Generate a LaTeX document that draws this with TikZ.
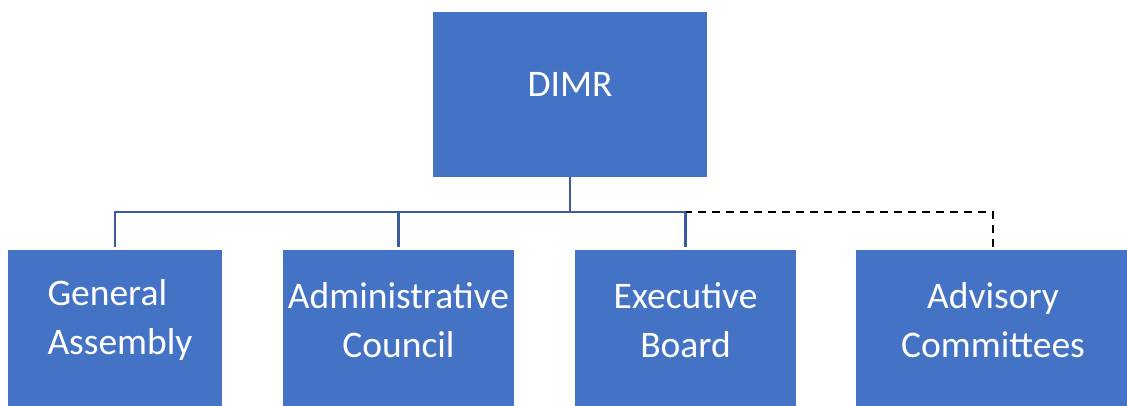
\documentclass[tikz,border=0pt]{standalone}
\usepackage{fontspec}
\setmainfont{Carlito}
\definecolor{unitblue}{HTML}{4472C4}
\definecolor{linkblue}{HTML}{3A5BA0}

\begin{document}
\begin{tikzpicture}[x=1pt,y=1pt]
\useasboundingbox (0,0) rectangle (1127,405);
\tikzset{unit/.style ={rectangle, fill=unitblue, draw=none, inner sep=0pt}}
\tikzset{caption/.style ={text=white, align=center, font=\fontsize{37.5}{49}\selectfont}}
\tikzset{link/.style ={draw=linkblue, line width=2.2pt}}
\tikzset{dotlink/.style ={draw=black, line width=1.6pt, dash pattern=on 8pt off 6pt}}
% top box
\node[unit, minimum width=274, minimum height=165,
  label={[caption, yshift=10.5]center:DIMR}] (dimr) at (570,310.5) {};
% bottom row
\node[unit, minimum width=214, minimum height=160,
  label={[caption, align=left, xshift=5, yshift=10]center:{General\\Assembly}}] (ga) at (115,75) {};
\node[unit, minimum width=231, minimum height=160,
  label={[caption, yshift=10]center:{Administrative\\Council}}] (ac) at (398.5,75) {};
\node[unit, minimum width=221, minimum height=160,
  label={[caption, yshift=10]center:{Executive\\Board}}] (eb) at (685.5,75) {};
\node[unit, minimum width=274, minimum height=160,
  label={[caption, yshift=10]center:{Advisory\\Committees}}] (adv) at (993,75) {};
% connectors
\coordinate (bus) at (570,193);
\draw[link] (dimr.south) -- (bus);
\draw[link, shorten <=3pt] (ga.north) |- (bus);
\draw[link, shorten <=3pt] (ac.north) |- (bus);
\draw[link, shorten <=3pt] (eb.north) |- (bus);
\draw[dotlink, shorten <=3pt] (adv.north) |- (eb.north |- bus);
\end{tikzpicture}
\end{document}
